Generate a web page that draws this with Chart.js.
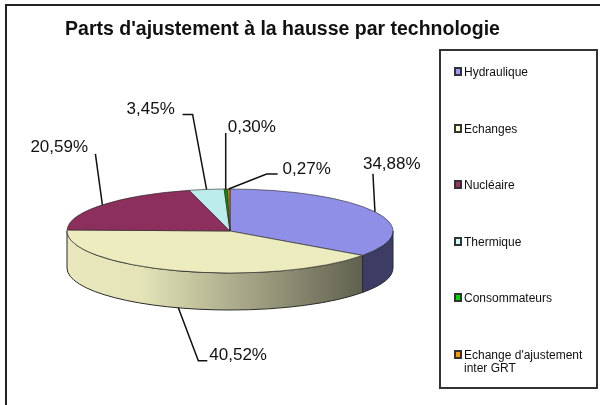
<!DOCTYPE html>
<html lang="fr">
<head>
    <meta charset="UTF-8">
    <title>Parts d'ajustement</title>
    <style>
        html, body {
            margin: 0;
            padding: 0;
            width: 600px;
            height: 405px;
            overflow: hidden;
            background: #fff;
            font-family: "Liberation Sans", Arial, sans-serif;
        }

        #frame {
            position: absolute;
            left: 5px;
            top: 4px;
            width: 640px;
            height: 440px;
            border-top: 2px solid #222;
            border-left: 2px solid #222;
        }

        #chart {
            position: absolute;
            left: 0;
            top: 0;
        }

        #legend {
            position: absolute;
            left: 439px;
            top: 49px;
            width: 159px;
            height: 340px;
            border: 2px solid #333;
            box-sizing: border-box;
            background: #fff;
        }

        .item {
            position: absolute;
            left: 14px;
            width: 135px;
            padding-left: 9px;
            font-size: 12px;
            line-height: 13px;
            color: #111;
        }

        .swatch {
            position: absolute;
            left: -1px;
            top: 1px;
            width: 4px;
            height: 5px;
            border: 2px solid #333;
        }
    </style>
</head>
<body>
    <div id="frame"></div>
    <canvas id="chart" width="600" height="405"></canvas>
    <div id="legend"></div>

    <script src="https://cdn.jsdelivr.net/npm/chart.js"></script>
    <script>
        const categories = ['Hydraulique', 'Echanges', 'Nucléaire', 'Thermique', 'Consommateurs', "Echange d'ajustement inter GRT"];
        const shares = [34.88, 40.52, 20.59, 3.45, 0.30, 0.27];

        const topColors = ['#8f8fe8', '#ececbe', '#8c2f5c', '#bcecec', '#009a00', '#c87800'];
        const legendColors = ['#9999ff', '#ffffcc', '#993366', '#ccffff', '#00dd00', '#ff9900'];
        const sideColors = ['#3c3c64', null, '#5a1e3c', '#7a9a9a', '#006000', '#805000'];

        // leader line bends and text spot, relative to where the slice meets its edge
        const leaderBends = [[[-2, -38]], [[20, 53], [29, 53]], [[-7, -51]], [[-14, -75], [-24, -75]], [[0, -56]], [[38, -15], [49, -15]]];
        const textSpots = [[-12, -47], [31, 47], [-72, -58], [-80, -80], [2, -62], [54, -20]];

        const squash = 42 / 163;
        const depth = 37;

        function drawSides(ctx, arcs) {
            arcs.forEach(function (arc, i) {
                const from = Math.max(arc.startAngle, 0);
                const to = Math.min(arc.endAngle, Math.PI);
                if (to <= from) return;
                const rx = arc.outerRadius;
                const ry = rx * squash;
                ctx.beginPath();
                ctx.ellipse(arc.x, arc.y, rx, ry, 0, from, to);
                ctx.lineTo(arc.x + rx * Math.cos(to), arc.y + ry * Math.sin(to) + depth);
                ctx.ellipse(arc.x, arc.y + depth, rx, ry, 0, to, from, true);
                ctx.closePath();
                if (sideColors[i]) {
                    ctx.fillStyle = sideColors[i];
                } else {
                    const shade = ctx.createLinearGradient(arc.x - rx, 0, arc.x + rx * Math.cos(from), 0);
                    shade.addColorStop(0, '#e8e8bc');
                    shade.addColorStop(0.25, '#e4e4b8');
                    shade.addColorStop(1, '#606050');
                    ctx.fillStyle = shade;
                }
                ctx.fill();
                ctx.strokeStyle = '#2a2a2a';
                ctx.lineWidth = 1;
                ctx.stroke();
            });
        }

        const tiltedPie = {
            id: 'tiltedPie',
            afterLayout(chart) {
                // title sits centred over the whole picture minus a bit, not over the pie
                chart.titleBlock.left = 0;
                chart.titleBlock.right = 565;
            },
            beforeDatasetsDraw(chart) {
                const ctx = chart.ctx;
                const arcs = chart.getDatasetMeta(0).data;
                ctx.save();
                drawSides(ctx, arcs);
                ctx.translate(arcs[0].x, arcs[0].y);
                ctx.scale(1, squash);
                ctx.translate(-arcs[0].x, -arcs[0].y);
            },
            afterDatasetsDraw(chart) {
                const ctx = chart.ctx;
                ctx.restore();

                const arcs = chart.getDatasetMeta(0).data;
                ctx.save();
                ctx.font = '17px "Liberation Sans", Arial, sans-serif';
                ctx.fillStyle = '#111';
                ctx.strokeStyle = '#111';
                ctx.lineWidth = 1.5;
                ctx.textBaseline = 'middle';
                arcs.forEach(function (arc, i) {
                    const mid = (arc.startAngle + arc.endAngle) / 2;
                    const x = arc.x + arc.outerRadius * Math.cos(mid);
                    let y = arc.y + arc.outerRadius * squash * Math.sin(mid);
                    if (Math.sin(mid) > 0) y += depth;
                    ctx.beginPath();
                    ctx.moveTo(x, y);
                    leaderBends[i].forEach(function (b) {
                        ctx.lineTo(x + b[0], y + b[1]);
                    });
                    ctx.stroke();
                    const label = shares[i].toFixed(2).replace('.', ',') + '%';
                    ctx.fillText(label, x + textSpots[i][0], y + textSpots[i][1]);
                });
                ctx.restore();
            }
        };

        const chart = new Chart(document.getElementById('chart'), {
            type: 'pie',
            data: {
                labels: categories,
                datasets: [{
                    data: shares,
                    backgroundColor: topColors,
                    borderColor: '#2a2a2a',
                    borderWidth: 1,
                    radius: 163,
                    clip: false
                }]
            },
            options: {
                responsive: false,
                animation: false,
                layout: { padding: { right: 140 } },
                plugins: {
                    legend: { display: false },
                    tooltip: { enabled: false },
                    title: {
                        display: true,
                        text: "Parts d'ajustement à la hausse par technologie",
                        color: '#111',
                        font: { family: '"Liberation Sans", Arial, sans-serif', size: 19.5, weight: 'bold' },
                        padding: { top: 18, bottom: 15.6 }
                    }
                }
            },
            plugins: [tiltedPie]
        });

        // legend box next to the pie
        const legendBox = document.getElementById('legend');
        categories.forEach(function (name, i) {
            const item = document.createElement('div');
            item.className = 'item';
            item.style.top = (15 + i * 56.5) + 'px';
            const swatch = document.createElement('span');
            swatch.className = 'swatch';
            swatch.style.backgroundColor = legendColors[i];
            item.appendChild(swatch);
            item.appendChild(document.createTextNode(name));
            legendBox.appendChild(item);
        });
    </script>
</body>
</html>
